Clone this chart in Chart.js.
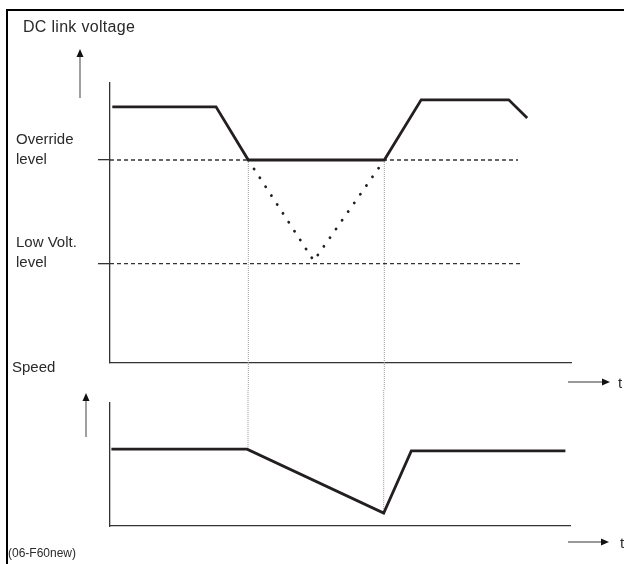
<!DOCTYPE html>
<html>
<head>
<meta charset="utf-8">
<script src="https://cdn.jsdelivr.net/npm/chart.js@4/dist/chart.umd.min.js"></script>
<style>
  html, body { margin: 0; padding: 0; background: #fff; }
  body { width: 624px; height: 564px; position: relative; overflow: hidden; font-family: "Liberation Sans", Arial, sans-serif; color: #222; }
  .frame { position: absolute; left: 6px; top: 9px; width: 700px; height: 700px; border-left: 2px solid #000; border-top: 2px solid #000; }
  canvas { position: absolute; left: 0; }
  .lbl { position: absolute; font-size: 15px; line-height: 15px; white-space: nowrap; color: #2a2a2a; }
  .title { font-size: 16px; line-height: 16px; letter-spacing: 0.3px; }
  .small { font-size: 12px; line-height: 12px; }
</style>
</head>
<body>
<div class="frame"></div>
<canvas id="top" width="624" height="390" style="top:0"></canvas>
<canvas id="bot" width="624" height="174" style="top:390px"></canvas>
<div class="lbl title" style="left:23px; top:19px">DC link voltage</div>
<div class="lbl" style="left:12px; top:359px">Speed</div>
<div class="lbl" style="left:618px; top:375px">t</div>
<div class="lbl" style="left:620px; top:535px">t</div>
<div class="lbl small" style="left:8px; top:547px">(06-F60new)</div>
<script>
// ---- data (arbitrary units: time 0..100, voltage 0..100, speed 0..100) ----
const voltageTime   = [0.5, 23, 30, 59.5, 67.5, 86.5, 90.5];
const voltageValues = [91.5, 91.5, 72.5, 72.5, 94, 94, 87.5];

const dipTime   = [30, 44.2, 59.5];
const dipValues = [72.5, 36.5, 72.5];

const levelValues = [72.5, 35.5];
const levelLabels = [["Override", "level"], ["Low Volt.", "level"]];
const levelEnd    = [88.5, 89];

const speedTime   = [0.3, 29.8, 59.5, 65.5, 99];
const speedValues = [62.5, 62.5, 10.5, 61, 61];

const markerTimes = [30, 59.5];   // vertical guide lines
const markerSpeed = [62.5, 10.5];

const INK = '#231f20';
const AXIS = '#333';
const GUIDE = '#999';

function pts(xs, ys) { return xs.map((x, i) => ({ x: x, y: ys[i] })); }

function arrow(ctx, x1, y1, x2, y2) {
  const ang = Math.atan2(y2 - y1, x2 - x1);
  const L = 8, W = 3.5;
  const bx = x2 - L * Math.cos(ang), by = y2 - L * Math.sin(ang);
  ctx.save();
  ctx.strokeStyle = '#777';
  ctx.lineWidth = 1.4;
  ctx.beginPath(); ctx.moveTo(x1, y1); ctx.lineTo(bx, by); ctx.stroke();
  ctx.fillStyle = '#111';
  ctx.beginPath();
  ctx.moveTo(x2, y2);
  ctx.lineTo(bx + W * Math.sin(ang), by - W * Math.cos(ang));
  ctx.lineTo(bx - W * Math.sin(ang), by + W * Math.cos(ang));
  ctx.closePath(); ctx.fill();
  ctx.restore();
}

const arrowsTop = {
  id: 'arrowsTop',
  afterDraw(chart) {
    const a = chart.chartArea, c = chart.ctx;
    arrow(c, a.left - 30, a.top + 15, a.left - 30, a.top - 34);
    arrow(c, a.right - 3, a.bottom + 19, a.right + 39, a.bottom + 19);
  }
};
const arrowsBot = {
  id: 'arrowsBot',
  afterDraw(chart) {
    const a = chart.chartArea, c = chart.ctx;
    arrow(c, a.left - 24, a.top + 34, a.left - 24, a.top - 10);
    arrow(c, a.right - 2, a.bottom + 16, a.right + 39, a.bottom + 16);
  }
};

const xScale = {
  type: 'linear', min: 0, max: 100,
  ticks: { display: false },
  grid: { display: false },
  border: { display: true, color: AXIS, width: 1.3 },
  afterFit(s) { s.height = 0; }
};

const common = {
  responsive: false,
  animation: false,
  devicePixelRatio: 1,
  plugins: { legend: { display: false }, tooltip: { enabled: false } },
  elements: { point: { radius: 0 }, line: { tension: 0 } }
};

new Chart(document.getElementById('top'), {
  type: 'line',
  data: {
    datasets: [
      { data: pts(voltageTime, voltageValues), borderColor: INK, borderWidth: 2.8, order: 0 },
      { data: [{x: 0, y: levelValues[0]}, {x: levelEnd[0], y: levelValues[0]}], borderColor: AXIS, borderWidth: 1.3, borderDash: [4, 3], order: 2 },
      { data: [{x: 0, y: levelValues[1]}, {x: levelEnd[1], y: levelValues[1]}], borderColor: AXIS, borderWidth: 1.3, borderDash: [4, 3], order: 2 },
      { data: pts(dipTime, dipValues), borderColor: INK, borderWidth: 2.8, borderDash: [0.1, 10.5], borderCapStyle: 'round', order: 1 },
      { data: [{x: markerTimes[0], y: voltageValues[2]}, {x: markerTimes[0], y: -20}], borderColor: GUIDE, borderWidth: 1, borderDash: [1, 1], clip: false, order: 3 },
      { data: [{x: markerTimes[1], y: voltageValues[3]}, {x: markerTimes[1], y: -20}], borderColor: GUIDE, borderWidth: 1, borderDash: [1, 1], clip: false, order: 3 }
    ]
  },
  options: Object.assign({}, common, {
    layout: { padding: { left: 16, right: 53, top: 83, bottom: 27 } },
    scales: {
      x: xScale,
      y: {
        type: 'linear', min: 0, max: 100,
        afterBuildTicks(s) { s.ticks = levelValues.map(v => ({ value: v })); },
        afterFit(s) { s.width = 94; },
        ticks: {
          autoSkip: false,
          crossAlign: 'far',
          labelOffset: -10.5,
          color: '#2a2a2a',
          font: { family: '"Liberation Sans", Arial, sans-serif', size: 15, lineHeight: 1.35 },
          callback(v) { const i = levelValues.indexOf(v); return i >= 0 ? levelLabels[i] : ''; }
        },
        grid: { display: true, drawOnChartArea: false, drawTicks: true, tickLength: 12, color: AXIS, lineWidth: 1.3 },
        border: { display: true, color: AXIS, width: 1.3 }
      }
    }
  }),
  plugins: [arrowsTop]
});

new Chart(document.getElementById('bot'), {
  type: 'line',
  data: {
    datasets: [
      { data: pts(speedTime, speedValues), borderColor: INK, borderWidth: 2.8, order: 0 },
      { data: [{x: markerTimes[0], y: markerSpeed[0]}, {x: markerTimes[0], y: 150}], borderColor: GUIDE, borderWidth: 1, borderDash: [1, 1], clip: false, order: 3 },
      { data: [{x: markerTimes[1], y: markerSpeed[1]}, {x: markerTimes[1], y: 150}], borderColor: GUIDE, borderWidth: 1, borderDash: [1, 1], clip: false, order: 3 }
    ]
  },
  options: Object.assign({}, common, {
    layout: { padding: { left: 16, right: 54, top: 13, bottom: 38 } },
    scales: {
      x: Object.assign({}, xScale, { afterFit(s) { s.height = 0; } }),
      y: {
        type: 'linear', min: 0, max: 100,
        afterFit(s) { s.width = 94; },
        ticks: { display: false },
        grid: { display: false },
        border: { display: true, color: AXIS, width: 1.3 }
      }
    }
  }),
  plugins: [arrowsBot]
});
</script>
</body>
</html>
